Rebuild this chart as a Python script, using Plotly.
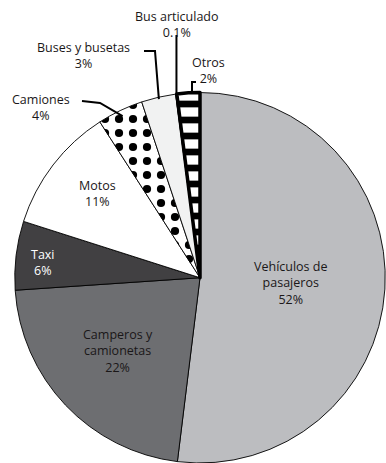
import math
import plotly.graph_objects as go

# Vehicle fleet composition (%), clockwise from 12 o'clock
categories = ["Vehículos de pasajeros", "Camperos y camionetas", "Taxi", "Motos",
              "Camiones", "Buses y busetas", "Bus articulado", "Otros"]
shares = [52, 22, 6, 11, 4, 3, 0.1, 2]
label_lines = [["Vehículos de", "pasajeros"], ["Camperos y", "camionetas"], ["Taxi"],
               ["Motos"], ["Camiones"], ["Buses y busetas"], ["Bus articulado"], ["Otros"]]

fills = ["#bcbdc0", "#6d6e71", "#414042", "#ffffff", "#ffffff", "#f1f2f2", "#000000", "#ffffff"]
shapes_pat = ["", "", "", "", ".", "", "", "-"]
pat_fg = ["#000", "#000", "#000", "#000", "#000", "#000", "#000", "#000"]
line_w = [0.9, 0.9, 0.9, 0.9, 0.9, 0.9, 0.9, 3.5]

W, H = 386, 463
CX, CY, R = 200, 278, 185.5  # pie centre / radius in pixels

fig = go.Figure(go.Pie(
    labels=categories, values=shares, sort=False, direction="clockwise", rotation=0,
    textinfo="none", hoverinfo="label+percent",
    marker=dict(colors=fills,
                line=dict(color="#000000", width=line_w),
                pattern=dict(shape=shapes_pat, fgcolor=pat_fg, bgcolor=fills,
                             size=[10, 10, 10, 10, 14, 10, 10, 16],
                             solidity=[0.2, 0.2, 0.2, 0.2, 0.27, 0.2, 0.2, 0.42],
                             fillmode="replace")),
    domain=dict(x=[(CX - R) / W, (CX + R) / W], y=[0, 1 - (CY - R) / H]),
    showlegend=False,
))

total = sum(shares)


def px(x, y):
    return x / W, 1 - y / H


def edge_point(frac, rr=R):
    a = 2 * math.pi * frac
    return CX + rr * math.sin(a), CY - rr * math.cos(a)


# label positions (pixels) and text colours
label_pos = {
    "Vehículos de pasajeros": (291, 283, "#1a1718"),
    "Camperos y camionetas": (118, 351, "#1a1718"),
    "Taxi": (43, 262, "#ffffff"),
    "Motos": (97, 193, "#1a1718"),
    "Camiones": (41, 107, "#1a1718"),
    "Buses y busetas": (83, 55, "#1a1718"),
    "Bus articulado": (177, 25, "#1a1718"),
    "Otros": (208, 70, "#1a1718"),
}

annotations = []
for cat, val, lines in zip(categories, shares, label_lines):
    x, y, col = label_pos[cat]
    pct = f"{val:g}%"
    ax, ay = px(x, y)
    annotations.append(dict(
        x=ax, y=ay, xref="paper", yref="paper", showarrow=False,
        text="<br>".join(lines + [pct]), align="center",
        font=dict(family="Open Sans", size=12.5, color=col),
        xanchor="center", yanchor="middle"))

# leader lines for the small slices
cum = []
s = 0
for v in shares:
    cum.append((s / total, (s + v) / total))
    s += v

shp = []
# Camiones
mid = sum(cum[4]) / 2
ex, ey = edge_point(mid, R - 6)
x0, y0 = px(82, 101)
x1, y1 = px(ex, ey)
shp.append(dict(type="path", xref="paper", yref="paper",
                path=f"M {x0},{y0} L {px(100,103)[0]},{px(100,103)[1]} L {x1},{y1}",
                line=dict(color="#000", width=2)))
# Buses y busetas
mid = sum(cum[5]) / 2
ex, ey = edge_point(mid, R - 2)
a = px(144, 51); b = px(155, 51); c = px(ex, ey)
shp.append(dict(type="path", xref="paper", yref="paper",
                path=f"M {a[0]},{a[1]} L {b[0]},{b[1]} L {c[0]},{c[1]}",
                line=dict(color="#000", width=2)))
# Bus articulado
mid = sum(cum[6]) / 2
ex, ey = edge_point(mid, R - 2)
a = px(ex, 35); c = px(ex, ey)
shp.append(dict(type="line", xref="paper", yref="paper", x0=a[0], y0=a[1], x1=c[0], y1=c[1],
                line=dict(color="#000", width=2)))
# Otros
mid = sum(cum[7]) / 2
ex, ey = edge_point(mid, R)
a = px(196, 82); b = px(192, 82); c = px(192, ey)
shp.append(dict(type="path", xref="paper", yref="paper",
                path=f"M {a[0]},{a[1]} L {b[0]},{b[1]} L {c[0]},{c[1]}",
                line=dict(color="#000", width=2)))

fig.update_layout(
    width=W, height=H, margin=dict(l=0, r=0, t=0, b=0),
    paper_bgcolor="#ffffff", plot_bgcolor="#ffffff",
    annotations=annotations, shapes=shp,
)

fig.write_html("out.html", config={"displayModeBar": False})
